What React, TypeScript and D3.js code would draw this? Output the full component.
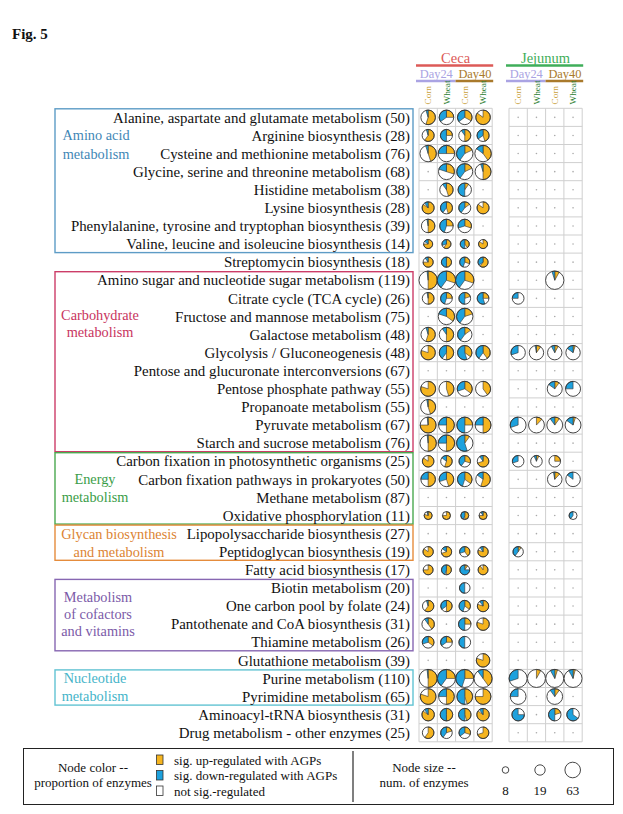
import React from 'react';
import * as d3 from 'd3';

const pathways = [
  'Alanine, aspartate and glutamate metabolism', 'Arginine biosynthesis', 'Cysteine and methionine metabolism',
  'Glycine, serine and threonine metabolism', 'Histidine metabolism', 'Lysine biosynthesis',
  'Phenylalanine, tyrosine and tryptophan biosynthesis', 'Valine, leucine and isoleucine biosynthesis',
  'Streptomycin biosynthesis', 'Amino sugar and nucleotide sugar metabolism', 'Citrate cycle (TCA cycle)',
  'Fructose and mannose metabolism', 'Galactose metabolism', 'Glycolysis / Gluconeogenesis',
  'Pentose and glucuronate interconversions', 'Pentose phosphate pathway', 'Propanoate metabolism',
  'Pyruvate metabolism', 'Starch and sucrose metabolism', 'Carbon fixation in photosynthetic organisms',
  'Carbon fixation pathways in prokaryotes', 'Methane metabolism', 'Oxidative phosphorylation',
  'Lipopolysaccharide biosynthesis', 'Peptidoglycan biosynthesis', 'Fatty acid biosynthesis',
  'Biotin metabolism', 'One carbon pool by folate', 'Pantothenate and CoA biosynthesis',
  'Thiamine metabolism', 'Glutathione metabolism', 'Purine metabolism', 'Pyrimidine metabolism',
  'Aminoacyl-tRNA biosynthesis', 'Drug metabolism - other enzymes',
];
const enzymeCounts = [50, 28, 76, 68, 38, 28, 39, 14, 18, 119, 26, 75, 48, 48, 67, 55, 55, 67, 76, 25, 50, 87, 11, 27, 19, 17, 20, 24, 31, 26, 39, 110, 65, 31, 25];

type V = number | null;
const _ = null;
// columns: Day24 Corn, Day24 Wheat, Day40 Corn, Day40 Wheat
const cecaUp: V[][] = [
  [0.55, 0.25, 0.33, 0.85], [0.6, 0.25, 0.5, 0.45], [0.45, 0.25, 0.18, 0.4], [_, 0.3, 0.18, 0.5],
  [_, 0.45, 0.1, _], [0.85, 0.45, 0.15, 0.85], [0.5, 0.25, 0.3, _], [0.75, 0.6, 0.4, 0.85],
  [0.75, 0.5, 0.3, 0.6], [0.5, 0.3, 0.3, _], [0.5, 0.25, 0.2, 0.25], [_, 0.35, 0.2, _],
  [0.55, 0.5, 0.15, _], [0.8, 0.5, 0.35, 0.4], [_, _, _, _], [0.8, 0.45, 0.35, 0.4],
  [0.45, _, _, _], [0.75, 0.5, 0.25, 0.5], [0.5, 0.5, 0.1, _], [0.85, 0.55, 0.3, 0.7],
  [0.5, 0.45, 0.35, 0.55], [_, _, _, _], [0.8, 0.75, 0.5, 0.75], [_, _, _, _],
  [0.85, 0.7, 0.4, 0.8], [0.75, 0.5, 0.1, 0.9], [_, _, 0, _], [0.6, 0.5, 0.35, 0.8],
  [0.4, _, 0.25, 0.8], [0.35, 0.25, 0, _], [_, _, _, 0.8], [0.5, 0.25, 0.25, 0.4],
  [0.8, 0.5, 0.45, 0.75], [0.85, 0.5, 0.45, 0.85], [0.6, 0.2, 0.3, 0.7],
];
const cecaDown: V[][] = [
  [0.05, 0.35, 0.35, 0], [0.05, 0.5, 0.1, 0.35], [0.05, 0.25, 0.4, 0.15], [_, 0.2, 0.4, 0.05],
  [_, 0.1, 0.5, _], [0.1, 0.4, 0.4, 0], [0.03, 0.45, 0.3, _], [0.15, 0.3, 0.5, 0],
  [0.1, 0.5, 0.45, 0.35], [0.02, 0.4, 0.4, _], [0.03, 0.45, 0.5, 0.55], [_, 0.2, 0.4, _],
  [0.05, 0.1, 0.4, _], [0, 0.4, 0.55, 0.4], [_, _, _, _], [0, 0, 0.3, 0],
  [0.03, _, _, _], [0.02, 0.25, 0.5, 0.25], [0.02, 0.25, 0.55, _], [0, 0.15, 0.4, 0.1],
  [0.25, 0.3, 0.45, 0.15], [_, _, _, _], [0.05, 0, 0.45, 0.1], [_, _, _, _],
  [0, 0.15, 0.3, 0.1], [0, 0.45, 0.75, 0], [_, _, 0.5, _], [0.05, 0.35, 0.45, 0.1],
  [0.1, _, 0.5, 0], [0.3, 0.35, 0.5, _], [_, _, _, 0], [0.02, 0.4, 0.45, 0.1],
  [0, 0.25, 0.5, 0], [0.1, 0.5, 0.5, 0.1], [0, 0.4, 0.35, 0],
];
const jejunumUp: V[][] = [
  [_, _, _, _], [_, _, _, _], [_, _, _, _], [_, _, _, _], [_, _, _, _], [_, _, _, _], [_, _, _, _], [_, _, _, _],
  [_, _, _, _], [_, _, 0.08, _], [0, _, _, _], [_, _, _, _], [_, _, _, _], [0, 0.1, 0.08, 0.05],
  [_, _, _, _], [_, _, 0.1, 0], [_, _, _, _], [0, 0.12, 0.1, 0.05], [_, _, _, _], [0, 0.07, 0.25, _],
  [_, _, 0.12, 0], [_, _, _, _], [_, _, _, 0], [_, _, _, _], [0.1, _, _, _], [_, _, _, _],
  [_, _, _, _], [_, _, _, _], [_, _, _, _], [_, _, _, _], [_, _, _, _], [0, 0.08, 0.05, 0.04],
  [0, _, 0.1, _], [0, _, 0.2, 0], [_, _, _, _],
];
const jejunumDown: V[][] = [
  [_, _, _, _], [_, _, _, _], [_, _, _, _], [_, _, _, _], [_, _, _, _], [_, _, _, _], [_, _, _, _], [_, _, _, _],
  [_, _, _, _], [_, _, 0.05, _], [0.25, _, _, _], [_, _, _, _], [_, _, _, _], [0.3, 0.03, 0.08, 0.15],
  [_, _, _, _], [_, _, 0.15, 0.25], [_, _, _, _], [0.3, 0, 0.1, 0.15], [_, _, _, _], [0.3, 0.07, 0, _],
  [_, _, 0.03, 0.15], [_, _, _, _], [_, _, _, 0.4], [_, _, _, _], [0.4, _, _, _], [_, _, _, _],
  [_, _, _, _], [_, _, _, _], [_, _, _, _], [_, _, _, _], [_, _, _, _], [0.3, 0, 0.08, 0.08],
  [0.25, _, 0.1, _], [0.75, _, 0.5, 0.65], [_, _, _, _],
];

const sites = ['Ceca', 'Jejunum'];
const days = ['Day24', 'Day40'];
const diets = ['Corn', 'Wheat'];

const groupLabels = [
  ['Amino acid', 'metabolism'], ['Carbohydrate', 'metabolism'], ['Energy', 'metabolism'],
  ['Glycan biosynthesis', 'and metabolism'], ['Metabolism', 'of cofactors', 'and vitamins'], ['Nucleotide', 'metabolism'],
];
const groupRows = [[0, 7], [9, 18], [19, 22], [23, 24], [26, 29], [31, 32]];
const groupLabelRows = [[1, 2], [10.9, 11.85], [20, 20.95], [23, 24], [26.5, 27.45, 28.4], [31, 31.95]];
const groupLabelX = [96, 100, 95, 119, 98, 95];
const groupColors = ['#3f87b6', '#c8345e', '#3a9d47', '#dc8433', '#7b5aa8', '#45b4c9'];
const groupBorder = ['#5d9cc6', '#cc3d68', '#4aa84f', '#e58c3c', '#8767b2', '#62c3d3'];

const legendItems = ['sig. up-regulated with AGPs', 'sig. down-regulated with AGPs', 'not sig.-regulated'];
const legendSizes = [8, 19, 63];

const UP = '#F5B41F';
const DOWN = '#1DA1DD';
const FONT = '"Liberation Serif", "Times New Roman", serif';

export default function App() {
  const W = 623, H = 814;
  const y = d3.scaleBand<string>().domain(pathways).range([108.3, 108.3 + 35 * 18.1]);
  const colsX = [
    d3.scaleBand<number>().domain([0, 1, 2, 3]).range([419, 492.2]),
    d3.scaleBand<number>().domain([0, 1, 2, 3]).range([509, 582.2]),
  ];
  const r = d3.scaleLog().domain([8, 63]).range([3.3, 7.8]);
  const arc = d3.arc<any>();
  const rowC = (i: number) => (y(pathways[0]) as number) + y.bandwidth() * (i + 0.5);
  const rowTop = (i: number) => (y(pathways[0]) as number) + y.bandwidth() * i;
  const bw = colsX[0].bandwidth();

  const pie = (cx: number, cy: number, rad: number, u: number, d: number, key: string) => (
    <g key={key} transform={`translate(${cx},${cy})`}>
      <circle r={rad} fill="#fff" />
      {u > 0 && <path d={arc({ innerRadius: 0, outerRadius: rad, startAngle: 0, endAngle: u * 2 * Math.PI }) as string} fill={UP} stroke="#333" strokeWidth={0.6} />}
      {d > 0 && <path d={arc({ innerRadius: 0, outerRadius: rad, startAngle: -d * 2 * Math.PI, endAngle: 0 }) as string} fill={DOWN} stroke="#333" strokeWidth={0.6} />}
      <circle r={rad} fill="none" stroke="#333" strokeWidth={0.9} />
    </g>
  );

  const grids = [[cecaUp, cecaDown], [jejunumUp, jejunumDown]];
  const siteColor = ['#dc5a57', '#3fae5a'];
  const dayColor = ['#aaa3e3', '#a97a2c'];
  const dietColor = ['#c9a13b', '#2f7f33'];

  return (
    <svg width={W} height={H} style={{ position: 'absolute', left: 0, top: 0, background: '#fff' }} fontFamily={FONT}>
      <rect width={W} height={H} fill="#fff" />
      <text x={12} y={39} fontSize={15} fontWeight="bold" fill="#111">Fig. 5</text>

      {/* headers */}
      {sites.map((s, si) => {
        const sx = colsX[si];
        const x0 = (sx(0) as number) - 3, x1 = (sx(3) as number) + bw + 1;
        const xm = ((sx(0) as number) + (sx(3) as number) + bw) / 2;
        return (
          <g key={s}>
            <text x={xm} y={62.5} textAnchor="middle" fontSize={14.5} fill={siteColor[si]}>{s}</text>
            <line x1={x0} x2={x1} y1={65.5} y2={65.5} stroke={siteColor[si]} strokeWidth={2.5} />
            {days.map((dname, di) => {
              const a = sx(di * 2) as number;
              const b = (sx(di * 2 + 1) as number) + bw;
              return (
                <g key={dname}>
                  <text x={(a + b) / 2 + (di === 0 ? -1 : 1)} y={77.5} textAnchor="middle" fontSize={12.4} fill={dayColor[di]}>{dname}</text>
                  <line x1={di === 0 ? x0 : a} x2={di === 1 ? x1 : b} y1={81} y2={81} stroke={dayColor[di]} strokeWidth={2.5} />
                </g>
              );
            })}
            {[0, 1, 2, 3].map((c) => {
              const cx = (sx(c) as number) + bw / 2;
              return (
                <text key={c} transform={`translate(${cx + 3.3},104.5) rotate(-90)`} fontSize={9.2} fill={dietColor[c % 2]}>{diets[c % 2]}</text>
              );
            })}
          </g>
        );
      })}

      {/* group boxes */}
      {groupRows.map(([a, b], gi) => (
        <rect key={gi} x={55} y={rowTop(a) + 0.5} width={358} height={rowTop(b + 1) - rowTop(a) - 1} fill="none" stroke={groupBorder[gi]} strokeWidth={1.4} />
      ))}
      {groupLabels.map((lines, gi) => lines.map((ln, li) => (
        <text key={gi + '-' + li} x={groupLabelX[gi]} y={rowC(groupLabelRows[gi][li])} dy="0.35em" textAnchor="middle" fontSize={14.3} fill={groupColors[gi]}>{ln}</text>
      )))}

      {/* row labels */}
      {pathways.map((p, i) => (
        <text key={p} x={410} y={rowC(i)} dy="0.35em" textAnchor="end" fontSize={14.9} fill="#111">{`${p} (${enzymeCounts[i]})`}</text>
      ))}

      {/* grids */}
      {grids.map(([up, down], si) => {
        const sx = colsX[si];
        return (
          <g key={si}>
            {[0, 1, 2, 3, 4].map((c) => {
              const xx = c < 4 ? (sx(c) as number) : (sx(3) as number) + bw;
              return <line key={'v' + c} x1={xx} x2={xx} y1={rowTop(0)} y2={rowTop(35)} stroke="#cfcfcf" strokeWidth={1} />;
            })}
            {d3.range(36).map((i) => (
              <line key={'h' + i} x1={sx(0) as number} x2={(sx(3) as number) + bw} y1={rowTop(i)} y2={rowTop(i)} stroke="#cfcfcf" strokeWidth={1} />
            ))}
            {pathways.map((p, i) => [0, 1, 2, 3].map((c) => {
              const cx = (sx(c) as number) + bw / 2;
              const cy = rowC(i);
              const u = up[i][c], d = down[i][c];
              if (u === null || d === null) return <circle key={i + '-' + c} cx={cx} cy={cy} r={0.8} fill="#aaa" />;
              return pie(cx, cy, r(enzymeCounts[i]), u, d, i + '-' + c);
            }))}
          </g>
        );
      })}

      {/* legend */}
      <rect x={23.5} y={748.5} width={590} height={56} fill="none" stroke="#222" strokeWidth={1} />
      <line x1={353} x2={353} y1={751} y2={802} stroke="#555" strokeWidth={1.5} />
      <text x={93} y={772} textAnchor="middle" fontSize={13} fill="#111">Node color --</text>
      <text x={93} y={787} textAnchor="middle" fontSize={13} fill="#111">proportion of enzymes</text>
      {legendItems.map((t, i) => (
        <g key={t}>
          <rect x={156.5} y={755 + i * 15.5} width={6.5} height={9.5} fill={[UP, DOWN, '#fff'][i]} stroke="#333" strokeWidth={0.8} />
          <text x={174} y={764.5 + i * 15.5} fontSize={13} fill="#111">{t}</text>
        </g>
      ))}
      <text x={424} y={772} textAnchor="middle" fontSize={13} fill="#111">Node size --</text>
      <text x={424} y={787} textAnchor="middle" fontSize={13} fill="#111">num. of enzymes</text>
      {legendSizes.map((n, i) => {
        const cx = [505.5, 540, 572.7][i];
        return (
          <g key={n}>
            <circle cx={cx} cy={770} r={r(n)} fill="#fff" stroke="#333" strokeWidth={0.9} />
            <text x={cx} y={795} textAnchor="middle" fontSize={13} fill="#111">{n}</text>
          </g>
        );
      })}
    </svg>
  );
}
